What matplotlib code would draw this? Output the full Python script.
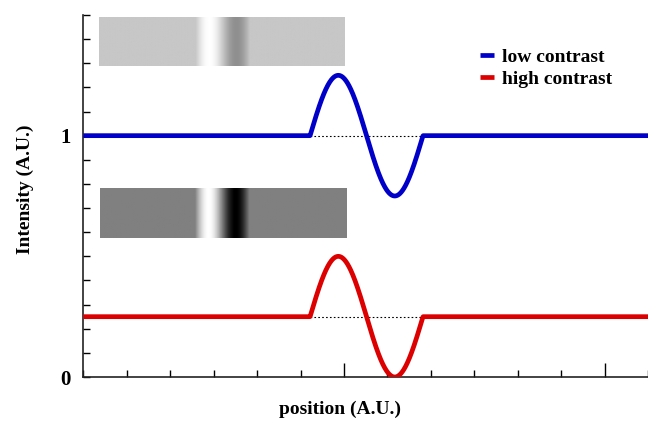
import numpy as np
import matplotlib
matplotlib.use("Agg")
from matplotlib import pyplot as plt
from matplotlib.ticker import MultipleLocator, FixedLocator

# curve parameters (data units)
series_names = ["low contrast", "high contrast"]
series_colors = ["#0000c8", "#dd0000"]
baselines = [1.0, 0.25]
amplitudes = [0.25, 0.25]
wave_start = 5.22
wave_period = 2.6
x_range = [0, 13]
y_range = [0, 1.5]

# grey stimulus strips: background level, peak/trough amplitude
strip_levels = [0.78, 0.5]
strip_amps = [0.22, 0.5]
strip_x = [(0.35, 6.0), (0.39, 6.06)]
strip_y = [(1.289, 1.489), (0.577, 0.784)]
strip_start = 2.57
strip_period = 1.25


def profile(x, base, amp, start, period):
    y = np.full_like(x, base, dtype=float)
    m = (x >= start) & (x <= start + period)
    y[m] = base + amp * np.sin(2 * np.pi * (x[m] - start) / period)
    return y


plt.rcParams['font.family'] = ['Liberation Serif', 'DejaVu Serif']
fig = plt.figure(figsize=(6.48, 4.22), dpi=100)
ax = fig.add_axes([0.1286, 0.1066, 0.8714, 0.8579])

x = np.linspace(x_range[0], x_range[1], 2000)
for name, col, base, amp in zip(series_names, series_colors, baselines, amplitudes):
    ax.plot([wave_start, wave_start + wave_period], [base, base], color='black',
            lw=0.8, ls=(0, (1.5, 2)), zorder=2)
    ax.plot(x, profile(x, base, amp, wave_start, wave_period), color=col, lw=3.4,
            solid_capstyle='butt', label=name, zorder=3)

for base, amp, (x0, x1), (y0, y1) in zip(strip_levels, strip_amps, strip_x, strip_y):
    xs = np.linspace(x0, x1, 400)
    img = profile(xs, base, amp, strip_start, strip_period)[None, :]
    ax.imshow(img, cmap='gray', vmin=0, vmax=1, extent=[x0, x1, y0, y1],
              aspect='auto', interpolation='bilinear', zorder=1)

ax.set_xlim(*x_range)
ax.set_ylim(*y_range)
for s in ['top', 'right']:
    ax.spines[s].set_visible(False)
for s in ['left', 'bottom']:
    ax.spines[s].set_linewidth(1.2)
    ax.spines[s].set_color('#222222')

ax.yaxis.set_major_locator(FixedLocator([0, 1]))
ax.set_yticklabels(['0', '1'], fontsize=15, fontweight='bold')
ax.yaxis.set_minor_locator(MultipleLocator(0.1))
ax.tick_params(axis='y', which='both', direction='in', length=5, width=1, pad=9)
ax.xaxis.set_major_locator(FixedLocator([6, 12]))
ax.xaxis.set_minor_locator(MultipleLocator(1))
ax.set_xticklabels([])
ax.tick_params(axis='x', which='major', direction='in', length=10, width=1)
ax.tick_params(axis='x', which='minor', direction='in', length=5, width=1)

ax.set_xlabel('position (A.U.)', fontsize=14, fontweight='bold')
ax.xaxis.set_label_coords(0.455, -0.065)
ax.set_ylabel('Intensity (A.U.)', fontsize=14, fontweight='bold')
ax.yaxis.set_label_coords(-0.087, 0.52)

ax.legend(loc='upper left', bbox_to_anchor=(0.741, 0.885), bbox_transform=fig.transFigure,
          frameon=False, handlelength=0.7, handletextpad=0.4, labelspacing=0.2,
          borderpad=0, borderaxespad=0, prop={'weight': 'bold', 'size': 14})

fig.savefig('out.png', dpi=100)
